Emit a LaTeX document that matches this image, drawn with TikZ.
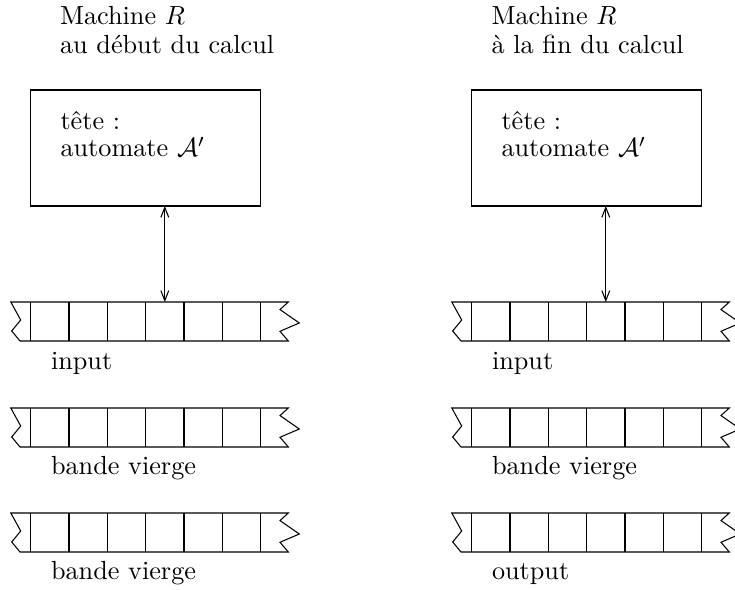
\documentclass[tikz,border=0pt]{standalone}
\usepackage{tikz}
\usetikzlibrary{arrows.meta}

\tikzset{
  txt/.style={anchor=base west, inner sep=0pt, align=left},
  liaison/.style={{Straight Barb[length=3.8pt,width=3pt]}-{Straight Barb[length=3.8pt,width=3pt]}}
}

\begin{document}
\begin{tikzpicture}[x=0.3815pt,y=0.3815pt,yscale=-1,xscale=1]
\useasboundingbox (0,0) rectangle (735,590);

%%%%%%%%%%%% machine au debut du calcul
% Text Node
\node[txt] (titreL) at (59.5,53.3) {Machine $R$\\[-1.2pt]au début du calcul};
%Shape: Rectangle [tete]
\draw (30.7,90) rectangle (260.7,206) ;
\coordinate (teteL) at (164.8,206);
% Text Node
\node[txt] (teteLtxt) at (60,156.7) {tête :\\[-1.8pt]automate $\mathcal{A}'$};

%Shape: Tape [input]
\draw (10.8,302) -- (288.3,302) -- (280,309.6) -- (299.3,323) -- (280,331.3) -- (288.3,341) -- (20,341) -- (11.7,331) -- (20.7,320) -- cycle ;
\draw (30.7,302) -- (30.7,341) (69,302) -- (69,341) (107.3,302) -- (107.3,341) (145.7,302) -- (145.7,341) (184,302) -- (184,341) (222.3,302) -- (222.3,341) (260.7,302) -- (260.7,341) ;
\coordinate (caseL) at (164.8,302);
% Text Node
\node[txt] (inputL) at (50.5,370) {input};

%Shape: Tape [bande vierge]
\draw (10.8,408) -- (288.3,408) -- (280,415.6) -- (299.3,429) -- (280,437.3) -- (288.3,447) -- (20,447) -- (11.7,437) -- (20.7,426) -- cycle ;
\draw (30.7,408) -- (30.7,447) (69,408) -- (69,447) (107.3,408) -- (107.3,447) (145.7,408) -- (145.7,447) (184,408) -- (184,447) (222.3,408) -- (222.3,447) (260.7,408) -- (260.7,447) ;
% Text Node
\node[txt] (viergeLa) at (50.5,475) {bande vierge};

%Shape: Tape [bande vierge]
\draw (10.8,513) -- (288.3,513) -- (280,520.6) -- (299.3,534) -- (280,542.3) -- (288.3,552) -- (20,552) -- (11.7,542) -- (20.7,531) -- cycle ;
\draw (30.7,513) -- (30.7,552) (69,513) -- (69,552) (107.3,513) -- (107.3,552) (145.7,513) -- (145.7,552) (184,513) -- (184,552) (222.3,513) -- (222.3,552) (260.7,513) -- (260.7,552) ;
% Text Node
\node[txt] (viergeLb) at (50.5,580) {bande vierge};

%Straight Lines [tete -- bande]
\draw[liaison] (teteL) -- (caseL) ;

%%%%%%%%%%%% machine a la fin du calcul
% Text Node
\node[txt] (titreR) at (491,53.3) {Machine $R$\\[-1.2pt]à la fin du calcul};
%Shape: Rectangle [tete]
\draw (471.7,90) rectangle (701.7,206) ;
\coordinate (teteR) at (605.8,206);
% Text Node
\node[txt] (teteRtxt) at (501,156.7) {tête :\\[-1.8pt]automate $\mathcal{A}'$};

%Shape: Tape [input]
\draw (451.8,302) -- (729.3,302) -- (721,309.6) -- (740.3,323) -- (721,331.3) -- (729.3,341) -- (461,341) -- (452.7,331) -- (461.7,320) -- cycle ;
\draw (471.7,302) -- (471.7,341) (510,302) -- (510,341) (548.3,302) -- (548.3,341) (586.7,302) -- (586.7,341) (625,302) -- (625,341) (663.3,302) -- (663.3,341) (701.7,302) -- (701.7,341) ;
\coordinate (caseR) at (605.8,302);
% Text Node
\node[txt] (inputR) at (491.5,370) {input};

%Shape: Tape [bande vierge]
\draw (451.8,408) -- (729.3,408) -- (721,415.6) -- (740.3,429) -- (721,437.3) -- (729.3,447) -- (461,447) -- (452.7,437) -- (461.7,426) -- cycle ;
\draw (471.7,408) -- (471.7,447) (510,408) -- (510,447) (548.3,408) -- (548.3,447) (586.7,408) -- (586.7,447) (625,408) -- (625,447) (663.3,408) -- (663.3,447) (701.7,408) -- (701.7,447) ;
% Text Node
\node[txt] (viergeR) at (491.5,475) {bande vierge};

%Shape: Tape [output]
\draw (451.8,513) -- (729.3,513) -- (721,520.6) -- (740.3,534) -- (721,542.3) -- (729.3,552) -- (461,552) -- (452.7,542) -- (461.7,531) -- cycle ;
\draw (471.7,513) -- (471.7,552) (510,513) -- (510,552) (548.3,513) -- (548.3,552) (586.7,513) -- (586.7,552) (625,513) -- (625,552) (663.3,513) -- (663.3,552) (701.7,513) -- (701.7,552) ;
% Text Node
\node[txt] (outputR) at (491.5,580) {output};

%Straight Lines [tete -- bande]
\draw[liaison] (teteR) -- (caseR) ;

\end{tikzpicture}
\end{document}
